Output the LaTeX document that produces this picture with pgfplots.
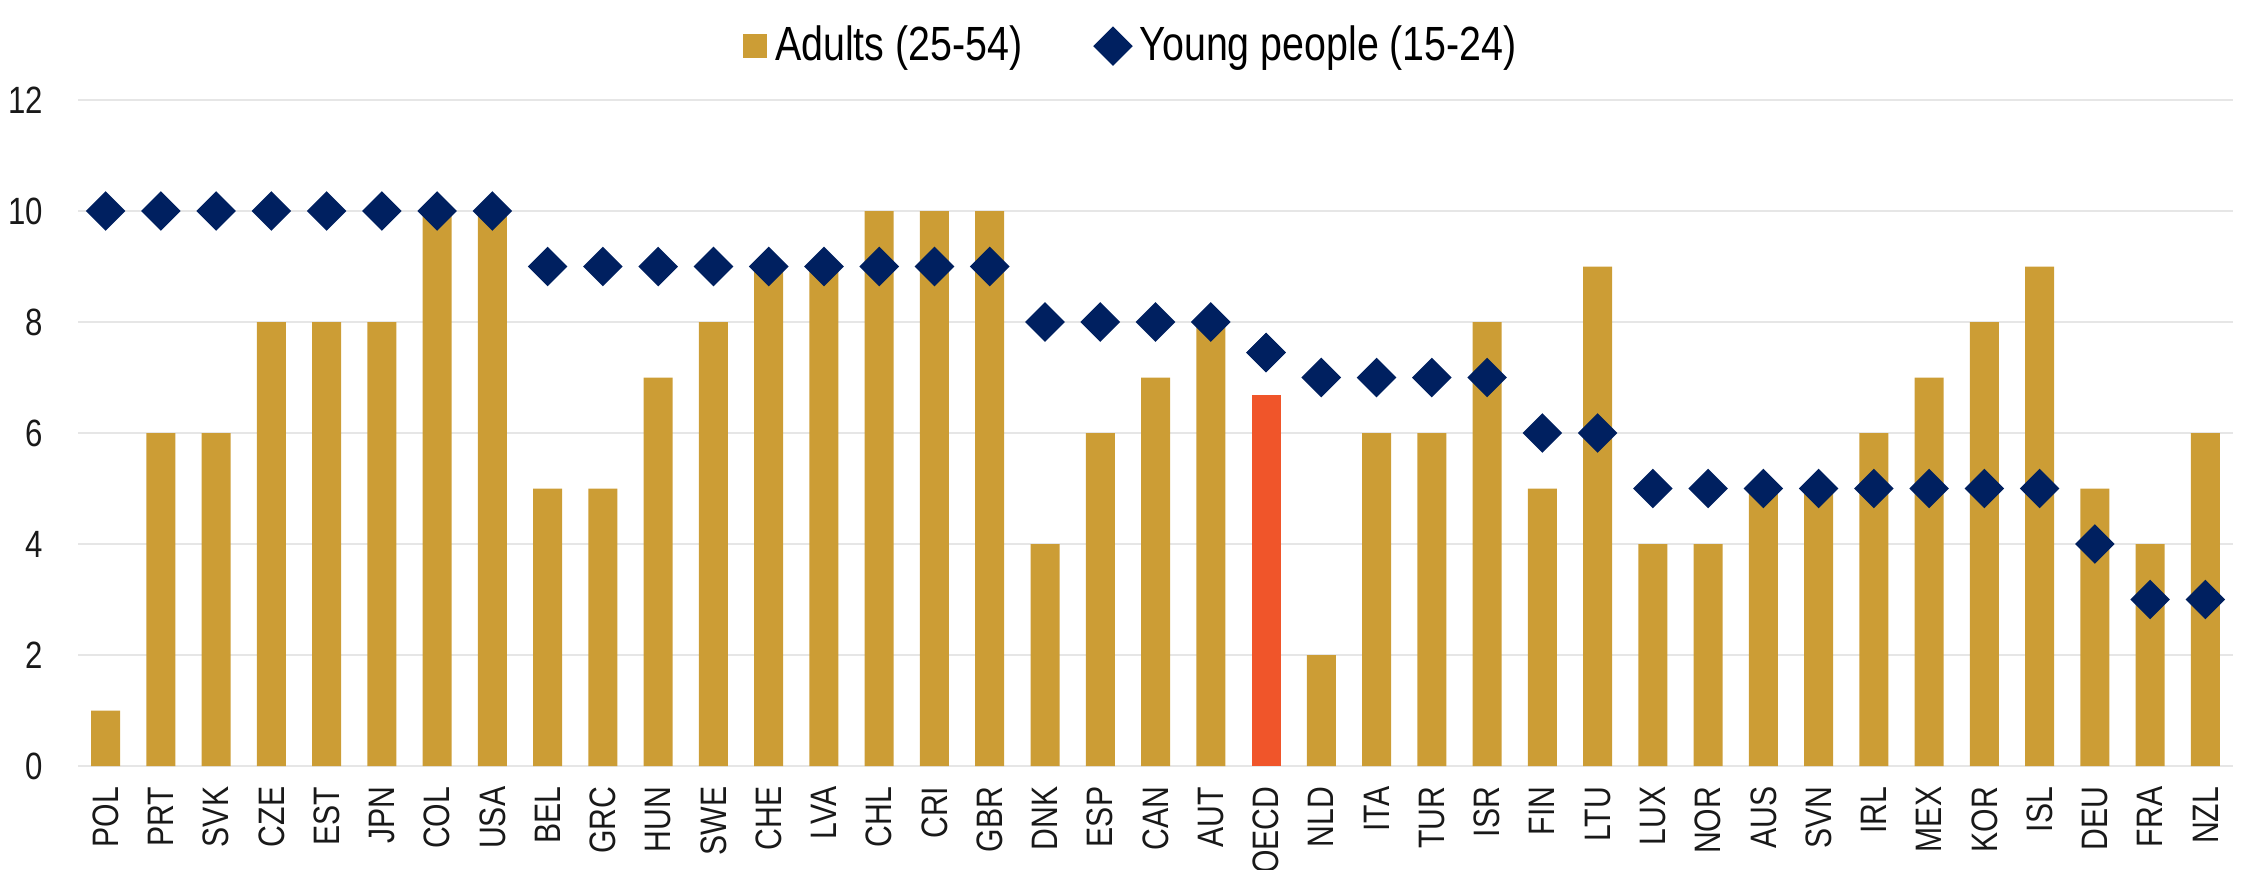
\documentclass[border=0pt]{standalone}
\usepackage{fontspec}
\setmainfont{Liberation Sans}[FakeStretch=0.82]
\usepackage{pgfplots}
\pgfplotsset{compat=1.18}
\usepackage{pgfplotstable}

\definecolor{gold}{RGB}{204,157,53}
\definecolor{oecdred}{RGB}{240,85,42}
\definecolor{navy}{RGB}{0,32,96}
\definecolor{gridgrey}{RGB}{230,230,230}

% x: position, adults, young
\pgfplotstableread{
x adults young
0 1 10
1 6 10
2 6 10
3 8 10
4 8 10
5 8 10
6 10 10
7 10 10
8 5 9
9 5 9
10 7 9
11 8 9
12 9 9
13 9 9
14 10 9
15 10 9
16 10 9
17 4 8
18 6 8
19 7 8
20 8 8
21 nan 7.45
22 2 7
23 6 7
24 6 7
25 8 7
26 5 6
27 9 6
28 4 5
29 4 5
30 5 5
31 5 5
32 6 5
33 7 5
34 8 5
35 9 5
36 5 4
37 4 3
38 6 3
}\datatable

\begin{document}
\begin{tikzpicture}
\useasboundingbox (-19.5pt,-25.75pt) rectangle (542.25pt,191.5pt);
\begin{axis}[
    scale only axis,
    width=538.75pt,
    height=166.5pt,
    xmin=-0.5, xmax=38.5,
    ymin=0, ymax=12,
    ytick={0,2,...,12},
    xtick={0,...,38},
    xticklabels={POL,PRT,SVK,CZE,EST,JPN,COL,USA,BEL,GRC,HUN,SWE,CHE,LVA,CHL,CRI,GBR,DNK,ESP,CAN,AUT,OECD,NLD,ITA,TUR,ISR,FIN,LTU,LUX,NOR,AUS,SVN,IRL,MEX,KOR,ISL,DEU,FRA,NZL},
    axis line style={draw=none},
    major tick length=0pt,
    ymajorgrids=true,
    grid style={gridgrey, line width=0.6pt},
    /pgf/number format/assume math mode=true,
    tick label style={font=\fontsize{9.5}{10}\selectfont, text=black!90},
    yticklabel style={anchor=east, inner sep=0pt, xshift=-8.5pt},
    xticklabel style={font=\fontsize{9.2}{10}\selectfont, yshift=-5pt, rotate=90, anchor=east, inner sep=0pt},
    legend style={
        at={(axis description cs:0.49,1.081)}, anchor=center,
        draw=none, fill=none,
        legend columns=2,
        font=\fontsize{12}{13}\selectfont,
        /tikz/every even column/.append style={column sep=16pt},
    },
    legend cell align=left,
]
\addplot[ybar, bar width=7.25pt, bar shift=0pt, fill=gold, draw=none,
    legend image code/.code={\fill[gold] (0pt,-3pt) rectangle (6pt,3pt);}]
    table[x=x, y=adults] {\datatable};
\addlegendentry{Adults (25-54)}
\addplot[only marks, mark=square*, mark size=3.3pt,
    mark options={rotate=45, fill=navy, draw=navy}]
    table[x=x, y=young] {\datatable};
\addlegendentry{Young people (15-24)}
\addplot[ybar, bar width=7.25pt, bar shift=0pt, fill=oecdred, draw=none, forget plot]
    coordinates {(21,6.68)};
\addplot[only marks, mark=square*, mark size=3.3pt,
    mark options={rotate=45, fill=navy, draw=navy}, forget plot]
    coordinates {(21,7.45)};
\end{axis}
\end{tikzpicture}
\end{document}
